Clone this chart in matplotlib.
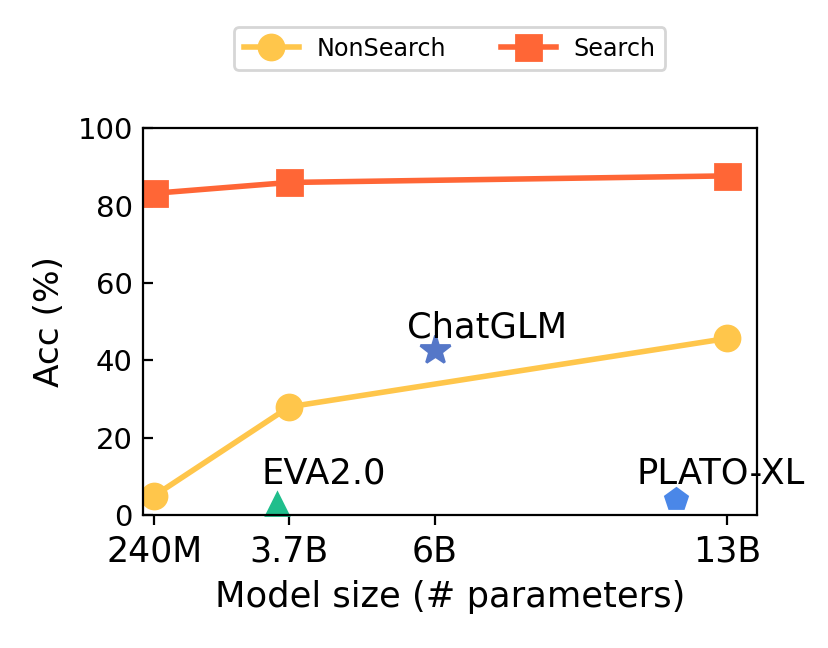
import matplotlib
matplotlib.use("Agg")
import matplotlib.pyplot as plt

plt.rcParams["font.family"] = ["DejaVu Sans"]

# x positions (axis units) for the size ticks
tick_labels = ["240M", "3.7B", "6B", "13B"]
tick_pos = [0.0, 0.942, 1.96, 4.0]

nonsearch = [5.0, 28.0, 45.7]
search = [83.2, 86.0, 87.7]
series_pos = [0.0, 0.942, 4.0]

others_names = ["EVA2.0", "ChatGLM", "PLATO-XL"]
others_pos = [0.86, 1.96, 3.64]
others_acc = [2.8, 42.6, 4.3]

fig = plt.figure(figsize=(829/200, 648/200), dpi=200)
ax = fig.add_axes([0.172, 0.205, 0.741, 0.597])

ax.plot(series_pos, nonsearch, color="#FFC64B", marker="o", lw=2, ms=9, label="NonSearch")
ax.plot(series_pos, search, color="#FF6636", marker="s", lw=2, ms=9, label="Search")

ax.plot(others_pos[0], others_acc[0], marker="^", color="#20BE8C", ms=8, ls="none", clip_on=False)
ax.plot(others_pos[1], others_acc[1], marker="*", color="#5577C8", ms=11, ls="none")
ax.plot(others_pos[2], others_acc[2], marker="p", color="#4A87E8", ms=8, ls="none")

ax.text(others_pos[0] - 0.11, others_acc[0] + 5.5, others_names[0], fontsize=12.7)
ax.text(others_pos[1] - 0.194, others_acc[1] + 3.2, others_names[1], fontsize=12.7)
ax.text(others_pos[2] - 0.277, others_acc[2] + 4.0, others_names[2], fontsize=12.7)

ax.set_xlim(-0.081, 4.205)
ax.set_ylim(0, 100)
ax.set_xticks(tick_pos)
ax.set_xticklabels(tick_labels, fontsize=12.5)
ax.set_yticks([0, 20, 40, 60, 80, 100])
ax.tick_params(axis="y", labelsize=10.5, direction="in")
ax.set_xlabel("Model size (# parameters)", fontsize=12.7)
ax.set_ylabel("Acc (%)", fontsize=12.4)

ax.legend(loc="lower center", bbox_to_anchor=(0.5, 1.15), ncol=2, borderaxespad=0,
          fontsize=8.6, columnspacing=2.3, handlelength=2.3, handletextpad=0.75)

fig.savefig("out.png", dpi=200)
